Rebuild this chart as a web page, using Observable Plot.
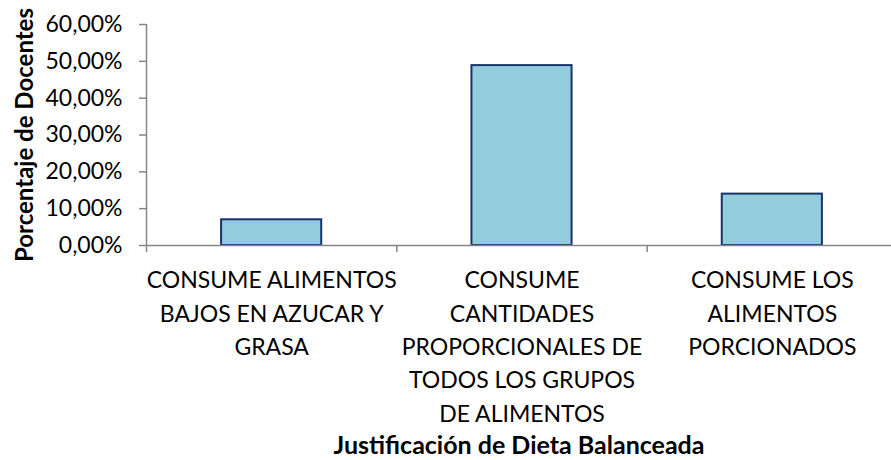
<!DOCTYPE html>
<html>
<head>
<meta charset="utf-8">
<script src="https://cdn.jsdelivr.net/npm/d3@7"></script>
<script src="https://cdn.jsdelivr.net/npm/@observablehq/plot@0.6"></script>
<style>
  html, body { margin: 0; padding: 0; background: #fff; overflow: hidden; }
</style>
</head>
<body>
<div id="chart"></div>
<script>
const categories = [
  "CONSUME ALIMENTOS\nBAJOS EN AZUCAR Y\nGRASA",
  "CONSUME\nCANTIDADES\nPROPORCIONALES DE\nTODOS LOS GRUPOS\nDE ALIMENTOS",
  "CONSUME LOS\nALIMENTOS\nPORCIONADOS"
];
const values = [0.0698, 0.4884, 0.1395];
const yTicks = [0, 0.1, 0.2, 0.3, 0.4, 0.5, 0.6];
const yTitle = "Porcentaje de Docentes";
const xTitle = "Justificación de Dieta Balanceada";

const data = categories.map((c, i) => ({cat: c, i, value: values[i]}));
const n = categories.length;
const gap = 0.3; // half of Excel gap (150%) in band units

const axisColor = "#868686";
const font = "Lato, 'Open Sans', sans-serif";

const fmt = d => (d * 100).toFixed(2).replace(".", ",") + "%";

const chart = Plot.plot({
  width: 891,
  height: 460,
  marginLeft: 146,
  marginRight: 0,
  marginTop: 24,
  marginBottom: 215,
  style: {fontFamily: font, fontSize: "23px", color: "#000", background: "#fff"},
  x: {type: "linear", domain: [0, n], range: [146, 897], axis: null},
  y: {domain: [0, 0.6], axis: null},
  marks: [
    Plot.rectY(data, {
      x1: d => d.i + gap,
      x2: d => d.i + 1 - gap,
      y: "value",
      fill: "#93CDDD",
      stroke: "#17336B",
      strokeWidth: 2
    }),
    Plot.ruleY([0], {stroke: axisColor, strokeWidth: 1.5}),
    Plot.ruleX([0], {stroke: axisColor, strokeWidth: 1.5}),
    Plot.axisY({
      ticks: yTicks,
      tickFormat: fmt,
      tickSize: 7,
      tickPadding: 17,
      stroke: axisColor,
      strokeWidth: 1.5,
      fill: "#000",
      fontSize: 23,
      label: null
    }),
    Plot.axisX({
      ticks: d3.range(n + 1),
      tickSize: 7,
      tickFormat: () => "",
      stroke: axisColor,
      strokeWidth: 1.5,
      label: null
    }),
    Plot.axisX({
      ticks: d3.range(n).map(i => i + 0.5),
      tickSize: 0,
      tickPadding: 19,
      tickFormat: v => categories[Math.floor(v)],
      lineHeight: 1.45,
      fill: "#000",
      fontSize: 23,
      label: null
    }),
    Plot.text([yTitle], {
      frameAnchor: "left",
      rotate: -90,
      dx: -121,
      textAnchor: "middle",
      lineAnchor: "middle",
      text: d => d,
      fontWeight: "bold",
      fontSize: 24,
      fill: "#000"
    }),
    Plot.text([xTitle], {
      frameAnchor: "bottom",
      dy: 200,
      textAnchor: "middle",
      lineAnchor: "middle",
      text: d => d,
      fontWeight: "bold",
      fontSize: 25,
      fill: "#000"
    })
  ]
});

document.getElementById("chart").appendChild(chart);
</script>
</body>
</html>
